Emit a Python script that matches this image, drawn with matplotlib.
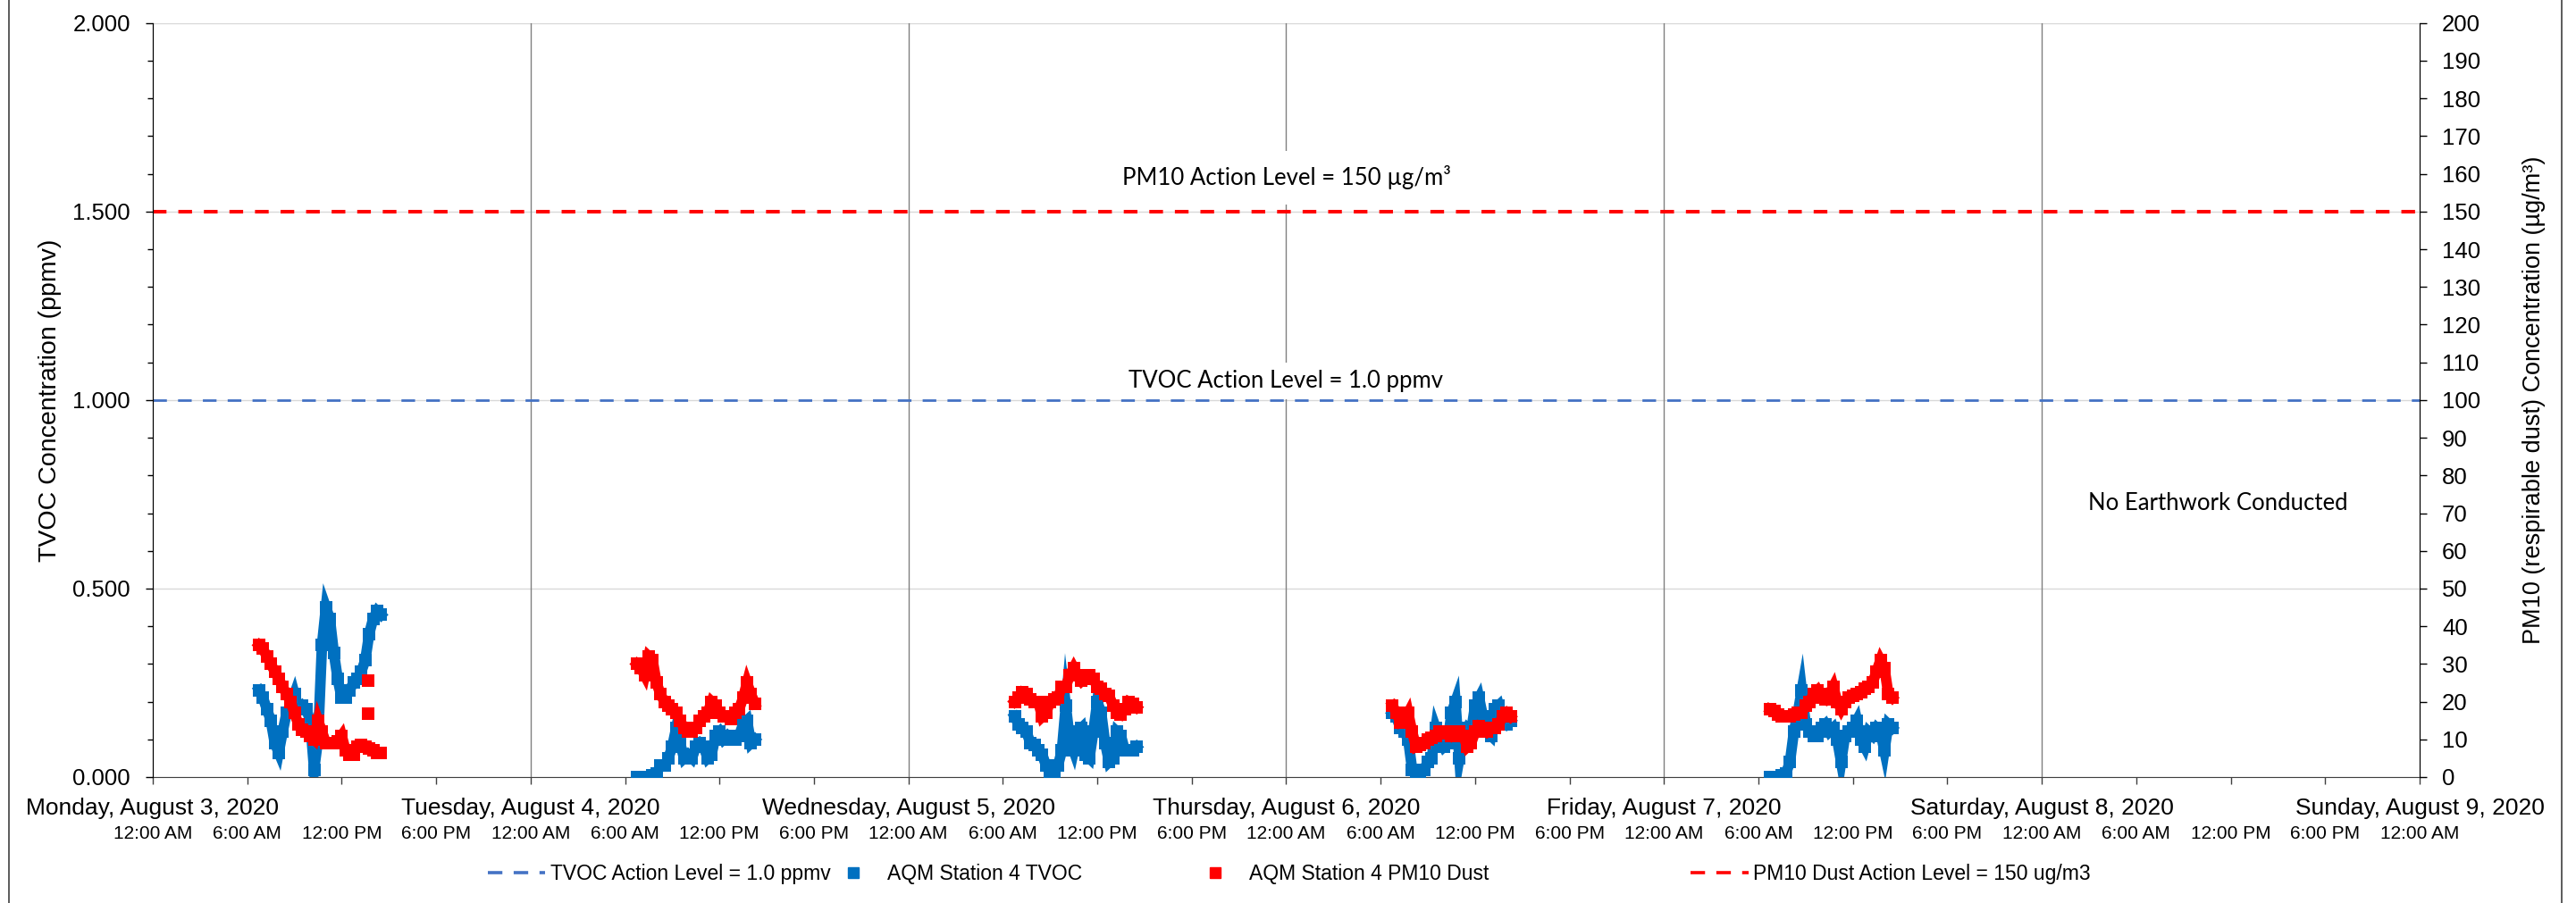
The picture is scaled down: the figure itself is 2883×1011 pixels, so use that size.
import matplotlib
matplotlib.use("Agg")
import matplotlib.pyplot as plt
import matplotlib.dates as mdates
import matplotlib.transforms as mtransforms
from matplotlib.ticker import MultipleLocator, FuncFormatter
from matplotlib.lines import Line2D
import pandas as pd

plt.rcParams['font.family'] = ['Liberation Sans', 'DejaVu Sans']

# readings every 15 minutes, first one at 6:45 AM each work day
day_starts = ["2020-08-03 06:45", "2020-08-04 06:45", "2020-08-05 06:45",
              "2020-08-06 06:45", "2020-08-07 06:45"]

# AQM Station 4 TVOC (ppmv)
tvoc_mon = [0.23, 0.21, 0.18, 0.15, 0.09, 0.065, 0.12, 0.17, 0.19, 0.22, 0.18, 0.19,
            0.18, 0.15, 0.02, 0.10, 0.35, 0.45, 0.42, 0.33, 0.26, 0.21, 0.21, 0.23,
            0.25, 0.26, 0.28, 0.31, 0.38, 0.42, 0.44, 0.43]
tvoc_tue = [0.0, 0.0, 0.0, 0.0, 0.005, 0.01, 0.03, 0.03, 0.05, 0.08, 0.13, 0.09,
            0.05, 0.06, 0.05, 0.08, 0.09, 0.08, 0.05, 0.06, 0.11, 0.12, 0.10, 0.11,
            0.10, 0.10, 0.11, 0.14, 0.15, 0.09, 0.10]
tvoc_wed = [0.16, 0.14, 0.13, 0.12, 0.09, 0.085, 0.07, 0.06, 0.03, 0.01, 0.015, 0.03,
            0.07, 0.19, 0.10, 0.07, 0.12, 0.13, 0.06, 0.05, 0.12, 0.20, 0.17, 0.09,
            0.04, 0.05, 0.12, 0.11, 0.07, 0.07, 0.07, 0.08]
tvoc_thu = [0.17, 0.16, 0.13, 0.12, 0.10, 0.02, 0.01, 0.015, 0.02, 0.04, 0.05, 0.13,
            0.10, 0.08, 0.09, 0.17, 0.20, 0.05, 0.11, 0.13, 0.12, 0.19, 0.21, 0.16,
            0.12, 0.11, 0.18, 0.19, 0.15, 0.14, 0.15]
tvoc_fri = [0.0, 0.0, 0.0, 0.005, 0.01, 0.04, 0.12, 0.17, 0.23, 0.14, 0.12, 0.11,
            0.11, 0.13, 0.14, 0.12, 0.13, 0.10, 0.04, 0.11, 0.12, 0.13, 0.15, 0.10,
            0.08, 0.12, 0.11, 0.13, 0.12, 0.07, 0.14, 0.13]

# AQM Station 4 PM10 dust (ug/m3)
pm10_mon = [35, 34, 32, 30, 28, 26, 24, 22, 20, 17, 14, 12.5, 12, 11, 10, 15, 12, 9,
            9, 9, 9.5, 11, 7, 6, 6, 8, 8.5, 8, 7.5, 7, 6.5, 6.5]
pm10_tue = [30, 29, 27, 32, 31, 25, 22, 20, 19, 18, 17, 15, 13, 12, 12, 13, 15, 16,
            17, 20, 19, 17, 16, 16, 15.5, 17, 18, 21, 25, 22, 19.5]
pm10_wed = [20, 21, 22.5, 22, 20.5, 20, 20, 16, 17, 20, 20.5, 21, 24, 24, 27, 29, 27,
            25.5, 26.5, 27, 26, 24, 23.5, 22, 21.5, 19, 17, 16.5, 18, 20, 19.5, 18.5]
pm10_thu = [19, 17, 14.5, 15, 17, 12, 8, 8.5, 9, 10, 10.5, 11, 12, 11.5, 12, 11, 12,
            12, 11, 8, 9, 12, 13.5, 13, 12, 13, 13, 14, 16, 17, 16]
pm10_fri = [18, 17.5, 16.5, 16, 16, 16, 16.5, 17, 17, 19, 20, 22, 23, 21, 20.5, 22,
            24, 20, 18, 20, 21, 21.5, 22, 22.5, 23.5, 24, 25, 28, 31, 29, 22, 21]
# two stray PM10 readings on Monday afternoon
pm10_extra_t = ["2020-08-03 13:40", "2020-08-03 13:40"]
pm10_extra = [25.6, 16.8]

tvoc_days = [tvoc_mon, tvoc_tue, tvoc_wed, tvoc_thu, tvoc_fri]
pm10_days = [pm10_mon, pm10_tue, pm10_wed, pm10_thu, pm10_fri]

day_names = ["Monday, August 3, 2020", "Tuesday, August 4, 2020",
             "Wednesday, August 5, 2020", "Thursday, August 6, 2020",
             "Friday, August 7, 2020", "Saturday, August 8, 2020",
             "Sunday, August 9, 2020"]
day_dates = pd.date_range("2020-08-03", "2020-08-09", freq="D")

tvoc_level = 1.0
pm10_level = 150

blue = "#0070C0"
red = "#FF0000"

fig = plt.figure(figsize=(28.83, 10.11), dpi=100)
ax = fig.add_axes([0.0593, 0.1395, 0.88, 0.835])
ax2 = ax.twinx()

for start, vals in zip(day_starts, tvoc_days):
    t = pd.date_range(start, periods=len(vals), freq="15min")
    ax.plot(t, vals, color=blue, marker="s", ms=9.5, mew=0, lw=8.5,
            solid_joinstyle="miter", zorder=3)
for start, vals in zip(day_starts, pm10_days):
    t = pd.date_range(start, periods=len(vals), freq="15min")
    ax2.plot(t, vals, color=red, marker="s", ms=9.5, mew=0, lw=8.5,
             solid_joinstyle="miter", zorder=3)
ax2.plot(pd.to_datetime(pm10_extra_t), pm10_extra, ls="none", color=red,
         marker="s", ms=9.5, mew=0, zorder=3)

# action levels
ax.axhline(tvoc_level, color="#4472C4", lw=2.0, dashes=(5.5, 4.5), zorder=2)
ax2.axhline(pm10_level, color=red, lw=2.9, dashes=(3.8, 3.3), zorder=2)

# day boundary lines
for d in day_dates[1:-1]:
    ax.axvline(d, color="#808080", lw=1.0, zorder=1)

ax.set_xlim(day_dates[0], day_dates[-1])
ax.set_ylim(0, 2.0)
ax2.set_ylim(0, 200)

ax.yaxis.set_major_locator(MultipleLocator(0.5))
ax.yaxis.set_minor_locator(MultipleLocator(0.1))
ax.yaxis.set_major_formatter(FuncFormatter(lambda v, p: f"{v:.3f}"))
ax2.yaxis.set_major_locator(MultipleLocator(10))
ax.grid(axis="y", which="major", color="#D9D9D9", lw=1.0, zorder=0)
ax.set_axisbelow(True)

ax.xaxis.set_major_locator(mdates.HourLocator(byhour=[0, 6, 12, 18]))
def time_label(x, pos):
    d = mdates.num2date(x)
    h = d.hour % 12
    if h == 0:
        h = 12
    return f"{h}:00 {'AM' if d.hour < 12 else 'PM'}"
ax.xaxis.set_major_formatter(FuncFormatter(time_label))

ax.tick_params(axis="x", direction="out", length=6, width=1, labelsize=15, pad=33,
               color="#404040")
ax.tick_params(axis="y", which="major", direction="out", length=6, width=1,
               labelsize=18.5, pad=12)
ax.tick_params(axis="y", which="minor", direction="out", length=4, width=1)
ax2.tick_params(axis="y", direction="out", length=6, width=1, labelsize=18.5, pad=12)

for a in (ax, ax2):
    a.spines["top"].set_visible(False)
ax.spines["bottom"].set_color("#404040")
ax2.spines["bottom"].set_visible(False)

ax.set_ylabel("TVOC Concentration (ppmv)", fontsize=20.5, labelpad=9)
ax2.set_ylabel("PM10 (respirable dust) Concentration (µg/m³)", fontsize=19.5,
               labelpad=34)

# day names below the axis
trans = mtransforms.blended_transform_factory(ax.transData, ax.transAxes)
for d, name in zip(day_dates, day_names):
    ax.text(d, -0.0414, name, transform=trans, ha="center", va="center",
            fontsize=19, clip_on=False)

# notes on the plot
ax.text(day_dates[3], 1.59, "PM10 Action Level = 150 µg/m³", ha="center",
        va="center", fontsize=18.5, family="Lato", zorder=1.5,
        bbox=dict(facecolor="white", edgecolor="none", pad=12))
ax.text(day_dates[3], 1.05, "TVOC Action Level = 1.0 ppmv", ha="center",
        va="center", fontsize=18.5, family="Lato", zorder=1.5,
        bbox=dict(facecolor="white", edgecolor="none", pad=6))
ax.text(pd.Timestamp("2020-08-08 11:10"), 0.725, "No Earthwork Conducted",
        ha="center", va="center", fontsize=18.5, family="Lato", zorder=4)

# legend entries placed one by one, like the spreadsheet legend
handles = [
    Line2D([], [], color="#4472C4", lw=2.6, dashes=(4.5, 3.5)),
    Line2D([], [], color=blue, ls="none", marker="s", ms=9),
    Line2D([], [], color=red, ls="none", marker="s", ms=9),
    Line2D([], [], color=red, lw=2.6, dashes=(4.5, 3.5)),
]
labels = ["TVOC Action Level = 1.0 ppmv", "AQM Station 4 TVOC",
          "AQM Station 4 PM10 Dust", "PM10 Dust Action Level = 150 ug/m3"]
legend_anchor = [(546, "center left"), (923, "center left"),
                 (1328, "center left"), (2340, "center right")]
for h, lab, (xl, loc) in zip(handles, labels, legend_anchor):
    fig.legend([h], [lab], loc=loc, bbox_to_anchor=(xl / 2883, 0.0326),
               frameon=False, fontsize=16.5, handlelength=2.8, handletextpad=0.25,
               borderpad=0, borderaxespad=0)

# chart area border (sides only visible)
for xb in (10 / 2883, 2867 / 2883):
    fig.add_artist(Line2D([xb, xb], [0, 1], transform=fig.transFigure,
                          color="#404040", lw=1.2))

fig.savefig("out.png", dpi=100)
